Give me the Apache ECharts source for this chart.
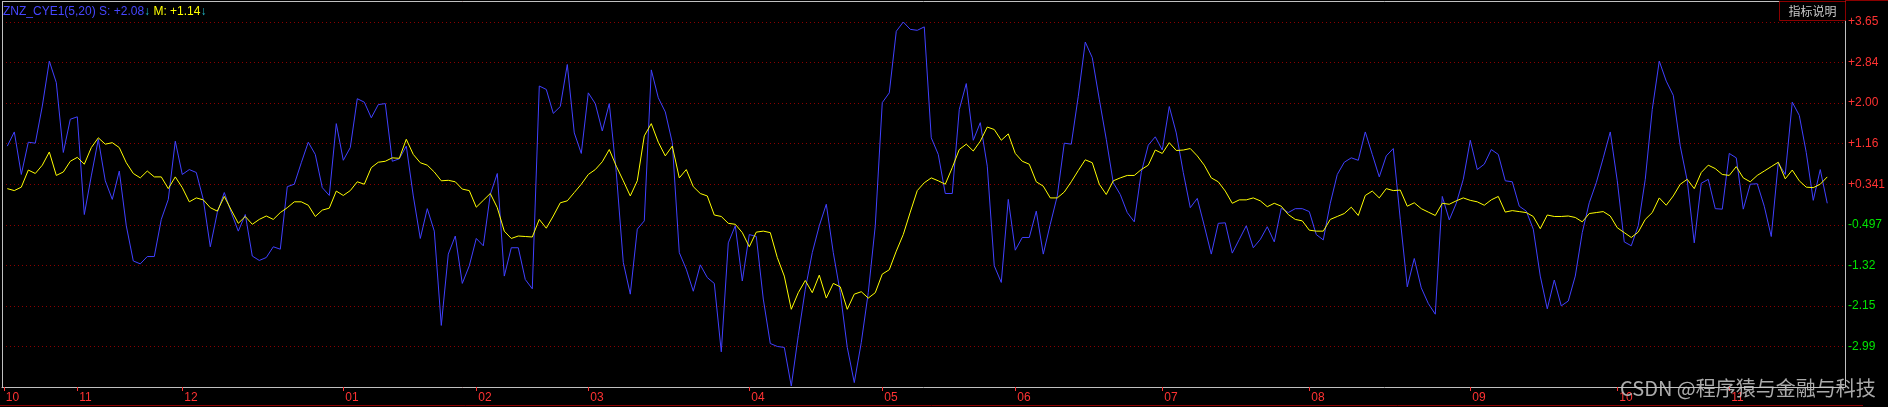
<!DOCTYPE html>
<html>
<head>
<meta charset="utf-8">
<script src="https://cdn.jsdelivr.net/npm/echarts@6/dist/echarts.min.js"></script>
<style>
html,body{margin:0;padding:0;background:#000;}
#chart{width:1888px;height:407px;}
</style>
</head>
<body>
<div id="chart"></div>
<script>
// ---- data ----
const S = [1.11,1.40,0.53,1.19,1.17,1.93,2.85,2.41,0.98,1.66,
1.71,-0.29,0.50,1.25,0.40,0.02,0.60,-0.52,-1.24,-1.30,
-1.15,-1.15,-0.39,0.02,1.21,0.53,0.63,0.57,0.02,-0.95,
-0.25,0.16,-0.25,-0.63,-0.29,-1.14,-1.23,-1.17,-0.95,-1.00,
0.28,0.33,0.77,1.19,0.94,0.26,0.10,1.57,0.82,1.08,
2.08,2.01,1.69,1.96,1.98,0.80,0.85,1.11,0.09,-0.78,
-0.17,-0.63,-2.56,-1.10,-0.73,-1.70,-1.34,-0.78,-0.93,0.12,
0.55,-1.55,-0.97,-0.97,-1.62,-1.81,2.34,2.27,1.78,1.92,
2.78,1.38,0.96,2.20,1.98,1.42,1.98,0.57,-1.27,-1.92,
-0.59,-0.42,2.67,2.10,1.81,1.18,-1.07,-1.41,-1.86,-1.32,
-1.58,-1.70,-3.10,-0.87,-0.52,-1.65,-0.70,-0.74,-2.02,-2.93,
-2.99,-3.01,-3.80,-2.77,-1.82,-1.07,-0.52,-0.08,-1.07,-1.89,
-3.01,-3.73,-2.91,-1.89,-0.52,2.00,2.20,3.46,3.65,3.50,
3.48,3.55,1.28,0.94,0.14,0.14,1.86,2.39,1.23,1.59,
0.70,-1.34,-1.68,0.02,-1.02,-0.76,-0.76,-0.22,-1.10,-0.49,
0.09,1.17,1.15,2.13,3.24,2.92,2.07,1.25,0.36,0.12,
-0.25,-0.44,0.57,1.13,1.30,1.03,1.92,1.38,0.57,-0.15,
0.04,-0.52,-1.10,-0.47,-0.46,-1.08,-0.80,-0.52,-0.97,-0.80,
-0.54,-0.85,-0.16,-0.25,-0.17,-0.17,-0.23,-0.70,-0.81,-0.06,
0.53,0.78,0.87,0.82,1.40,0.94,0.48,0.91,1.06,-0.39,
-1.77,-1.19,-1.79,-2.11,-2.33,0.08,-0.40,-0.06,0.43,1.23,
0.63,0.74,1.04,0.94,0.40,0.38,-0.12,-0.22,-0.59,-1.55,
-2.22,-1.63,-2.16,-2.06,-1.55,-0.66,-0.05,0.36,0.87,1.40,
0.40,-0.85,-0.93,-0.52,0.43,1.86,2.85,2.44,2.15,1.11,
0.40,-0.87,0.35,0.43,-0.17,-0.18,0.96,0.87,-0.18,0.33,
0.34,-0.12,-0.74,0.77,0.53,2.01,1.74,0.98,0.00,0.63,
-0.06];

const M = [0.24,0.20,0.27,0.62,0.55,0.72,0.99,0.51,0.58,0.80,
0.88,0.74,1.08,1.28,1.15,1.18,1.08,0.77,0.55,0.46,
0.60,0.48,0.48,0.24,0.48,0.26,-0.03,0.05,0.01,-0.15,
-0.22,0.08,-0.20,-0.47,-0.33,-0.49,-0.39,-0.32,-0.39,-0.25,
-0.15,-0.03,-0.03,-0.10,-0.33,-0.20,-0.16,0.19,0.10,0.20,
0.38,0.33,0.67,0.78,0.80,0.87,0.86,1.25,0.94,0.77,
0.72,0.58,0.40,0.41,0.38,0.23,0.20,-0.14,0.00,0.14,
-0.15,-0.63,-0.78,-0.73,-0.74,-0.75,-0.39,-0.57,-0.32,-0.05,
-0.01,0.16,0.33,0.53,0.63,0.79,1.04,0.70,0.40,0.09,
0.40,1.32,1.57,1.19,0.91,1.11,0.46,0.63,0.28,0.14,
0.09,-0.30,-0.33,-0.47,-0.49,-0.66,-0.95,-0.65,-0.63,-0.66,
-1.17,-1.55,-2.23,-1.89,-1.64,-1.89,-1.53,-2.00,-1.70,-1.77,
-2.23,-1.92,-1.87,-2.00,-1.89,-1.51,-1.42,-1.04,-0.70,-0.24,
0.20,0.36,0.46,0.40,0.33,0.67,1.04,1.15,1.01,1.21,
1.50,1.45,1.23,1.36,0.96,0.80,0.74,0.38,0.29,0.05,
0.05,0.17,0.38,0.61,0.83,0.77,0.33,0.12,0.40,0.46,
0.51,0.51,0.63,0.72,1.03,0.96,1.18,1.02,1.03,1.06,
0.91,0.72,0.46,0.38,0.19,-0.06,0.01,0.01,0.05,-0.01,
-0.13,-0.06,-0.12,-0.29,-0.39,-0.42,-0.61,-0.63,-0.63,-0.39,
-0.33,-0.27,-0.14,-0.31,0.10,0.19,0.05,0.24,0.20,0.21,
-0.12,-0.05,-0.17,-0.24,-0.31,-0.06,-0.08,-0.01,0.05,0.00,
-0.03,-0.10,0.01,0.08,-0.24,-0.21,-0.23,-0.25,-0.33,-0.58,
-0.30,-0.33,-0.33,-0.32,-0.35,-0.44,-0.27,-0.25,-0.23,-0.32,
-0.56,-0.66,-0.76,-0.65,-0.39,-0.25,0.05,-0.10,0.09,0.33,
0.43,0.24,0.57,0.72,0.65,0.53,0.51,0.69,0.46,0.38,
0.51,0.60,0.69,0.78,0.44,0.62,0.40,0.27,0.26,0.33,
0.48];

// month boundaries (bar index) and their labels
const monthPos = [-0.5,10,25,48,67,83,106,125,144,165,186,209,230,246];
const monthLabels = ['10','11','12','01','02','03','04','05','06','07','08','09','10','11'];

// y tick labels
const yTickValues = [3.65,2.84,2.00,1.16,0.341,-0.497,-1.32,-2.15,-2.99];
const yTickLabels = ['+3.65','+2.84','+2.00','+1.16','+0.341','-0.497','-1.32','-2.15','-2.99'];

const legendName = 'ZNZ_CYE1(5,20)';
const legendS = '+2.08';
const legendM = '+1.14';

// ---- chart ----
const FONT = "'Liberation Sans', Arial, sans-serif";
const RED = '#FF3232';
const GREEN = '#00E600';
const BORDER = '#C0C0C0';
const DARKRED = '#8B0000';

const chart = echarts.init(document.getElementById('chart'), null, {renderer: 'canvas'});

const option = {
  backgroundColor: '#000000',
  animation: false,
  grid: {left: 2, top: 1, right: 43, bottom: 20, containLabel: false},
  xAxis: {
    type: 'value',
    min: -0.757,
    max: 262.529,
    axisLine: {show: true, onZero: false, lineStyle: {color: BORDER, width: 1}},
    axisTick: {show: true, customValues: monthPos, length: 4, lineStyle: {color: RED}},
    axisLabel: {
      show: true,
      customValues: monthPos,
      color: RED,
      fontFamily: FONT,
      fontSize: 12,
      align: 'left',
      margin: 5,
      padding: [0, 0, 0, 2],
      formatter: function (v) {
        for (let i = 0; i < monthPos.length; i++) {
          if (Math.abs(v - monthPos[i]) < 0.01) return monthLabels[i];
        }
        return '';
      }
    },
    splitLine: {show: false}
  },
  yAxis: {
    type: 'value',
    position: 'right',
    min: -3.82,
    max: 4.08,
    interval: 0.83,
    axisLine: {show: true, onZero: false, lineStyle: {color: BORDER, width: 1}},
    axisTick: {show: false},
    axisLabel: {
      show: true,
      margin: 3,
      fontFamily: FONT,
      fontSize: 12,
      formatter: function (v) {
        for (let i = 0; i < yTickValues.length; i++) {
          if (Math.abs(v - yTickValues[i]) < 0.05) return yTickLabels[i];
        }
        return '';
      },
      color: function (v) {
        return v > 0 ? RED : GREEN;
      }
    },
    splitLine: {show: true, lineStyle: {color: DARKRED, width: 1, type: [1, 3]}}
  },
  series: [
    {
      name: 'S',
      type: 'line',
      data: S.map(function (v, i) { return [i, v]; }),
      showSymbol: false,
      symbol: 'none',
      lineStyle: {color: '#4040FF', width: 1},
      z: 3
    },
    {
      name: 'M',
      type: 'line',
      data: M.map(function (v, i) { return [i, v]; }),
      showSymbol: false,
      symbol: 'none',
      lineStyle: {color: '#FFFF00', width: 1},
      z: 4
    }
  ],
  graphic: [
    {type: 'line', z: 50, shape: {x1: 2.5, y1: 1, x2: 2.5, y2: 387}, style: {stroke: BORDER, lineWidth: 1}},
    {type: 'line', z: 50, shape: {x1: 2, y1: 1.5, x2: 1845, y2: 1.5}, style: {stroke: BORDER, lineWidth: 1}},
    {type: 'line', z: 50, shape: {x1: 1845, y1: 0.5, x2: 1888, y2: 0.5}, style: {stroke: DARKRED, lineWidth: 1}},
    {type: 'line', z: 50, shape: {x1: 0, y1: 405.5, x2: 1863, y2: 405.5}, style: {stroke: DARKRED, lineWidth: 1}},
    {type: 'rect', z: 60, shape: {x: 1779.5, y: 1.5, width: 66, height: 19}, style: {fill: '#000000', stroke: DARKRED, lineWidth: 1}},
    {type: 'text', z: 61, style: {text: '指标说明', x: 1812.5, y: 11.5, fill: '#C8C8C8', font: "12px 'Noto Sans CJK SC', sans-serif", textAlign: 'center', textVerticalAlign: 'middle'}},
    {
      type: 'text', z: 61,
      style: {
        x: 3, y: 12,
        textVerticalAlign: 'middle',
        text: '{b|' + legendName + ' S: ' + legendS + '}{a|↓}{y| M: ' + legendM + '}{a|↓}',
        rich: {
          b: {fill: '#4646FF', font: '12px ' + FONT},
          y: {fill: '#FFFF00', font: '12px ' + FONT},
          a: {fill: '#20B8C8', font: '12px ' + FONT}
        }
      }
    },
    {type: 'text', z: 100, style: {text: 'CSDN @程序猿与金融与科技', x: 1620, y: 388, fill: 'rgba(200,200,200,0.85)', font: "20px 'Noto Sans CJK SC', sans-serif", textAlign: 'left', textVerticalAlign: 'middle'}}
  ]
};

chart.setOption(option);
</script>
</body>
</html>
